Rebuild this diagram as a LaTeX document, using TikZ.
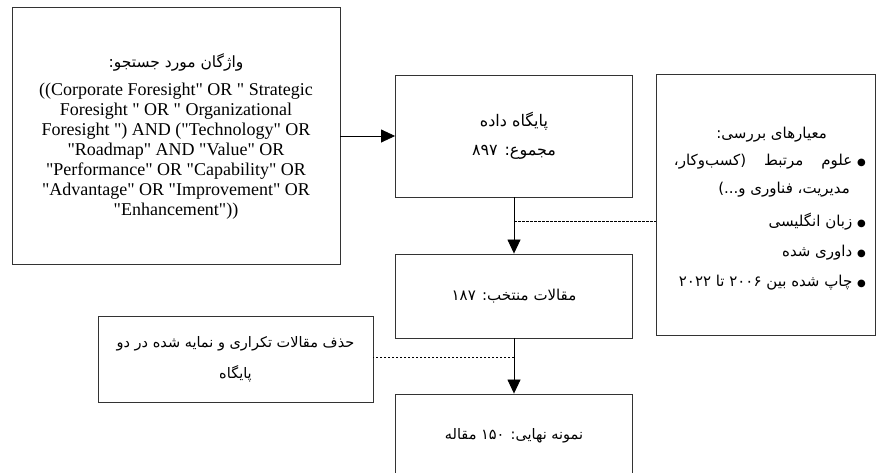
\documentclass[tikz,border=0pt]{standalone}
\usepackage{fontspec}
\setmainfont{Liberation Serif}[Ligatures=TeXOff]
\newfontfamily\persianfont[Script=Arabic]{DejaVu Sans}
\TeXXeTstate=1
\newcommand{\fasize}[2]{\persianfont\fontsize{#1}{#2}\selectfont}
\newcommand{\blt}{{\fontsize{10}{10}\selectfont ●}}
\usetikzlibrary{calc, positioning, arrows.meta}

\begin{document}
\begin{tikzpicture}[x=1pt, y=-1pt,
  box/.style={draw=black!80, line width=0.9pt, align=center, inner sep=4pt},
  en/.style={font=\fontsize{18}{20}\selectfont},
  item/.style={font=\fasize{15}{20}, anchor=east, inner sep=0pt},
  arr/.style={-{Triangle[length=14pt, width=13pt]}, line width=0.7pt},
  dsh/.style={line width=0.7pt, dash pattern=on 2.5pt off 1.5pt}]
  \useasboundingbox (0,0) rectangle (876,472);

  % boxes
  \node[box, en, minimum width=328pt, minimum height=257pt] (search) at (176,136)
    {{\fasize{15.5}{20}\beginR واژگان مورد جستجو:\endR}\\[8pt]
     ((Corporate Foresight" OR " Strategic\\
     Foresight " OR " Organizational\\
     Foresight ") AND ("Technology" OR\\
     "Roadmap" AND "Value" OR\\
     "Performance" OR "Capability" OR\\
     "Advantage" OR "Improvement" OR\\
     "Enhancement"))};
  \node[box, font=\fasize{16}{29}, minimum width=237pt, minimum height=122pt] (db) at (514,136)
    {\beginR پایگاه داده\endR\\ \beginR مجموع: ۸۹۷\endR};
  \node[box, font=\fasize{15}{29}, minimum width=237pt, minimum height=84pt] (sel) at (514,296)
    {\beginR مقالات منتخب: ۱۸۷\endR};
  \node[box, font=\fasize{14.5}{29}, minimum width=237pt, minimum height=84pt] (fin) at (514,436)
    {\beginR نمونه نهایی: ۱۵۰ مقاله\endR};
  \node[box, font=\fasize{14.5}{31}, minimum width=275pt, minimum height=86pt] (rem) at (235.5,359)
    {\beginR حذف مقالات تکراری و نمایه شده در دو\endR\\ \beginR پایگاه\endR};
  \node[box, minimum width=219pt, minimum height=261pt] (crit) at (765.5,204.5) {};

  % criteria list
  \node[item] (ctitle) at (827,135) {\beginR معیارهای بررسی:\endR};
  \node[item] (c1) at (866,162) {\beginR \blt\ علوم\hspace{18pt}مرتبط\hspace{18pt}(کسب‌وکار،\endR};
  \node[item] (c1b) at (850,190) {\beginR مدیریت، فناوری و...)\endR};
  \node[item] (c2) at (866,222) {\beginR \blt\ زبان انگلیسی\endR};
  \node[item] (c3) at (866,253) {\beginR \blt\ داوری شده\endR};
  \node[item] (c4) at (866,283) {\beginR \blt\ چاپ شده بین ۲۰۰۶ تا ۲۰۲۲\endR};

  % connectors
  \draw[arr] (search) -- (db);
  \draw[arr] (db) -- (sel);
  \draw[arr] (sel) -- (fin);
  \coordinate (j1) at ($(db.south)!0.42!(sel.north)$);
  \draw[dsh] (j1) -- (j1 -| crit.west);
  \coordinate (j2) at ($(sel.south)!0.34!(fin.north)$);
  \draw[dsh] (j2) -- (j2 -| rem.east);
\end{tikzpicture}
\end{document}
